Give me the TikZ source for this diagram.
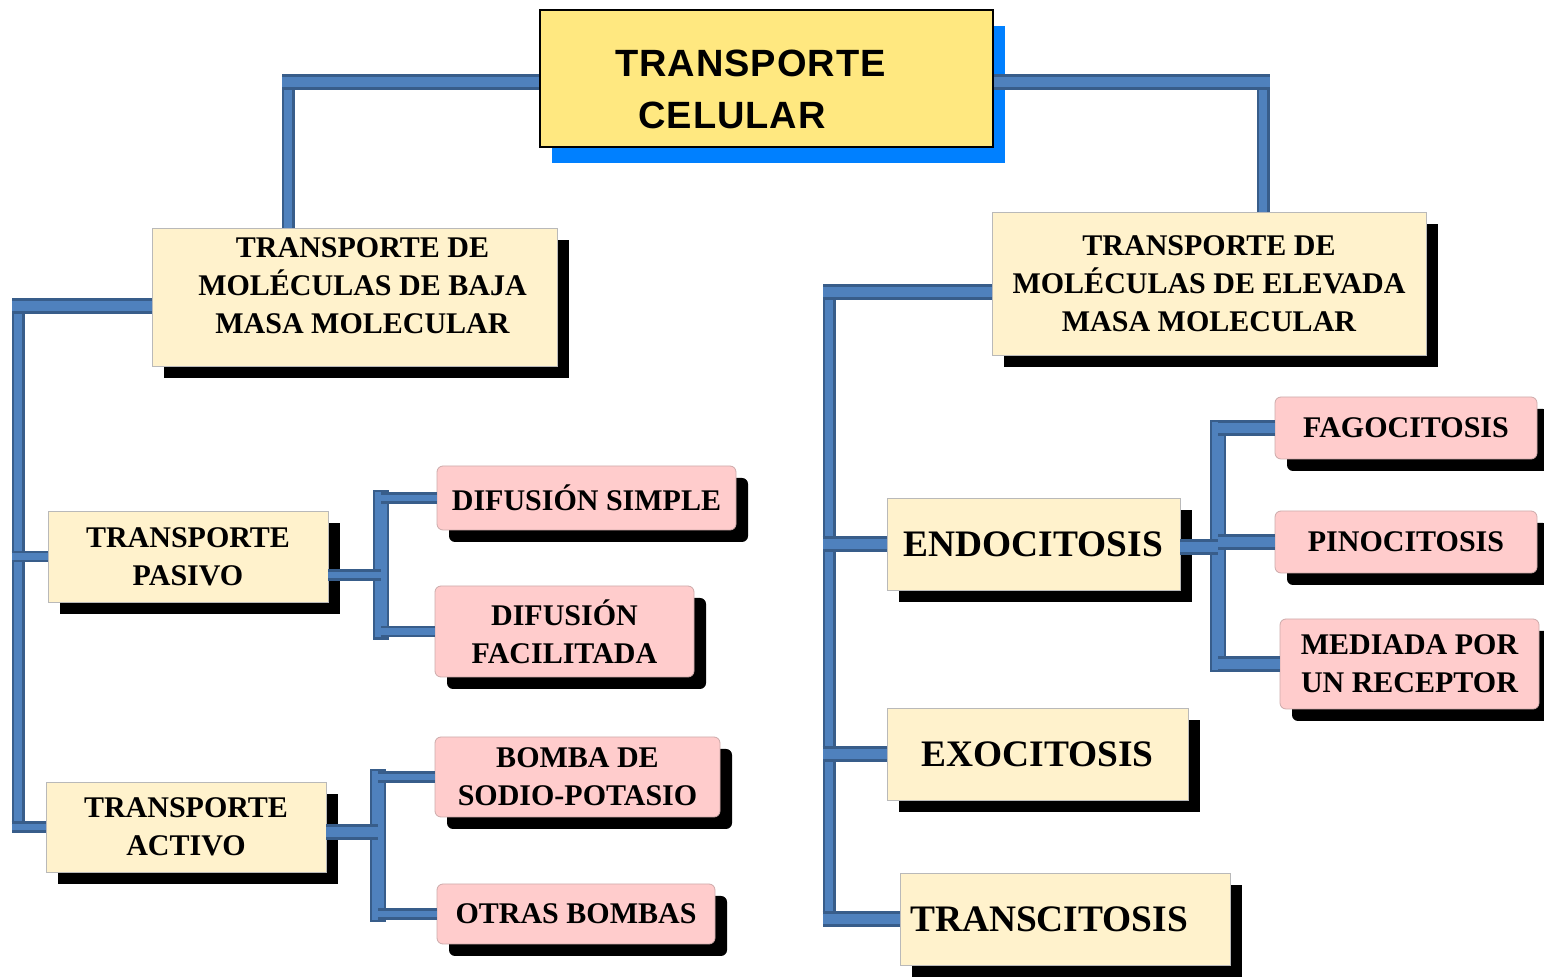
\documentclass[tikz,border=0pt]{standalone}
\usepackage{fontspec}
\setmainfont{Liberation Serif}
\newfontfamily\titlefont{Liberation Sans}[LetterSpace=2.5]
\usetikzlibrary{shadows}
\definecolor{barfill}{RGB}{79,129,189}
\definecolor{barline}{RGB}{56,93,138}
\definecolor{cream}{RGB}{255,242,204}
\definecolor{pinkbox}{RGB}{255,204,204}
\definecolor{leafline}{RGB}{205,170,170}
\definecolor{titlefill}{RGB}{255,232,128}
\definecolor{titleshadow}{RGB}{0,128,255}
\begin{document}
\begin{tikzpicture}[x=0.5pt, y=-0.5pt, line join=miter,
	wh/.style 2 args={minimum width=#1pt, minimum height=#2pt},
	box/.style={draw=gray!55, fill=cream, inner sep=0pt, align=center, font=\bfseries\fontsize{15}{19}\selectfont, general shadow={fill=black, shadow xshift=6pt, shadow yshift=-6pt}},
	bigbox/.style={box, font=\bfseries\fontsize{18.7}{22}\selectfont},
	leaf/.style={box, fill=pinkbox, draw=leafline, rounded corners=3pt},
	vbar/.style={draw=barline, line width=1.2pt, double=barfill, double distance=4.1pt},
	hbar/.style={draw=barline, line width=1.4pt, double=barfill, double distance=5.4pt},
	twig/.style={draw=barline, line width=1.1pt, double=barfill, double distance=3.4pt},
	bracket/.style={vbar, double distance=6pt, line cap=rect}]
	\useasboundingbox (0,0) rectangle (1544,977);
	% title
	\node[draw=black, line width=0.8pt, fill=titlefill, wh={226.5}{68.5}, general shadow={fill=titleshadow, shadow xshift=6pt, shadow yshift=-8pt}] (title) at (766.5,78.5) {};
	\node[font=\titlefont\bfseries\fontsize{19}{26}\selectfont, align=left, anchor=west, inner sep=0pt] (titletext) at (615,89) {TRANSPORTE\\\hspace*{11.5pt}CELULAR};
	\node[box, wh={202.5}{69}] (low) at (354.5,297) {\hspace*{8pt}TRANSPORTE DE\\\hspace*{8pt}MOLÉCULAS DE BAJA\\\hspace*{8pt}MASA MOLECULAR\\[-8pt]};
	\node[box, wh={217}{71.5}] (high) at (1209,283.5) {TRANSPORTE DE\\MOLÉCULAS DE ELEVADA\\MASA MOLECULAR};
	\node[box, wh={140}{45.5}] (pasivo) at (188,556.5) {TRANSPORTE\\PASIVO};
	\node[box, wh={140}{45}] (activo) at (186,827) {TRANSPORTE\\ACTIVO};
	\node[leaf, wh={149.5}{32}] (simple) at (586.5,498) {DIFUSIÓN SIMPLE};
	\node[leaf, wh={129.5}{45.5}] (facil) at (564.5,631.5) {DIFUSIÓN\\FACILITADA};
	\node[leaf, wh={142.5}{40}] (bomba) at (577.5,777) {BOMBA DE\\SODIO-POTASIO};
	\node[leaf, wh={139}{30}] (otras) at (576,914) {OTRAS BOMBAS};
	\node[bigbox, wh={146.5}{46}] (endo) at (1033.5,544) {ENDOCITOSIS};
	\node[bigbox, wh={150.5}{46}] (exo) at (1037.5,754) {EXOCITOSIS};
	\node[bigbox, wh={165}{46}] (trans) at (1065,919) {TRANSCITOSIS\hspace*{16pt}};
	\node[leaf, wh={131}{31}] (fago) at (1406,428) {FAGOCITOSIS};
	\node[leaf, wh={131}{31}] (pino) at (1406,542) {PINOCITOSIS};
	\node[leaf, wh={129.5}{45}] (mediada) at (1409.5,664) {MEDIADA POR\\UN RECEPTOR};
	% connectors
	\coordinate (jA) at (288,82);
	\coordinate (jB) at (1263,82);
	\coordinate (jC) at (18,306);
	\coordinate (jD) at (381,575);
	\coordinate (jE) at (378,832);
	\coordinate (jF) at (829,292);
	\coordinate (jG) at (1218,547);
	\draw[vbar] ([yshift=3pt]jA) -- (jA |- low.north);
	\draw[vbar] ([yshift=3pt]jB) -- (jB |- high.north);
	\draw[vbar] ([yshift=3pt]jC) -- ([yshift=-2.8pt]jC |- activo.west);
	\draw[vbar] ([yshift=3pt]jF) -- ([yshift=-3.5pt]jF |- trans.west);
	\draw[bracket] (jD |- simple.west) -- (jD |- facil.west);
	\draw[bracket] (jE |- bomba.west) -- (jE |- otras.west);
	\draw[bracket] (jG |- fago.west) -- (jG |- mediada.west);
	\draw[hbar] (title.west |- jA) -- ([xshift=-3.25pt]jA);
	\draw[hbar] (title.east |- jB) -- ([xshift=3.25pt]jB);
	\draw[hbar] (low.west |- jC) -- ([xshift=-3.25pt]jC);
	\draw[hbar] (high.west |- jF) -- ([xshift=-3.25pt]jF);
	\draw[twig] ([xshift=-3.25pt]jC |- pasivo.west) -- (pasivo.west);
	\draw[twig] ([xshift=-3.25pt]jC |- activo.west) -- (activo.west);
	\draw[twig] (pasivo.east |- jD) -- (jD);
	\draw[twig] (jD |- simple.west) -- (simple.west);
	\draw[twig] (jD |- facil.west) -- (facil.west);
	\draw[hbar] (activo.east |- jE) -- (jE);
	\draw[twig] (jE |- bomba.west) -- (bomba.west);
	\draw[twig] (jE |- otras.west) -- (otras.west);
	\draw[hbar] ([xshift=-3.25pt]jF |- endo.west) -- (endo.west);
	\draw[hbar] ([xshift=-3.25pt]jF |- exo.west) -- (exo.west);
	\draw[hbar] ([xshift=-3.25pt]jF |- trans.west) -- (trans.west);
	\draw[hbar] (endo.east |- jG) -- (jG);
	\draw[hbar] (jG |- fago.west) -- (fago.west);
	\draw[hbar] (jG |- pino.west) -- (pino.west);
	\draw[hbar] (jG |- mediada.west) -- (mediada.west);
\end{tikzpicture}
\end{document}
